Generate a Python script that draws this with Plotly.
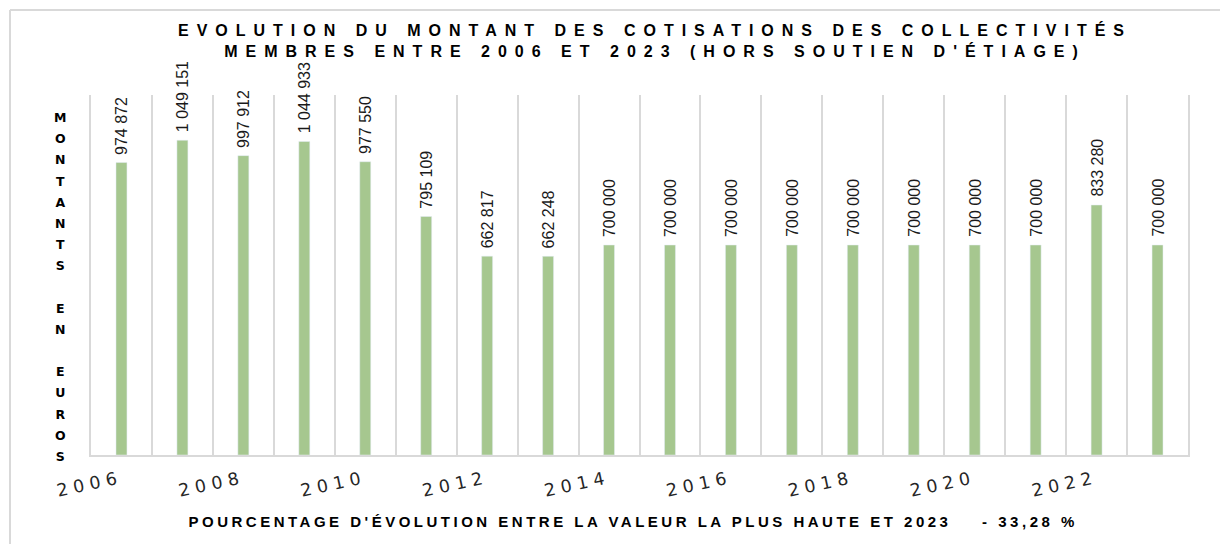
import plotly.graph_objects as go

# ---------------- data ----------------
years = list(range(2006, 2024))
montants = [974872, 1049151, 997912, 1044933, 977550, 795109, 662817, 662248,
            700000, 700000, 700000, 700000, 700000, 700000, 700000, 700000,
            833280, 700000]
tick_years = [2006, 2008, 2010, 2012, 2014, 2016, 2018, 2020, 2022]
title_lines = ["EVOLUTION DU MONTANT DES COTISATIONS DES COLLECTIVITÉS",
               "MEMBRES ENTRE 2006 ET 2023 (HORS SOUTIEN D'ÉTIAGE)"]
y_title_words = ["MONTANTS", "EN", "EUROS"]
footer_text = "POURCENTAGE D'ÉVOLUTION ENTRE LA VALEUR LA PLUS HAUTE ET 2023"
footer_value = "- 33,28 %"

# ---------------- layout geometry ----------------
W, H = 1220, 544
L, R, T, B = 91, 32, 95, 89
PW, PH = W - L - R, H - T - B


def px_x(px):
    return (px - L) / PW


def px_y(py):
    return (H - B - py) / PH


GRID = "#d9d9d9"
BAR = "#a6c78f"
TXT = "#262626"

fig = go.Figure()
fig.add_trace(go.Bar(
    x=years, y=montants, marker_color=BAR, width=0.18,
    hoverinfo="skip", showlegend=False,
))

annotations = []
# footer (index 0)
annotations.append(dict(
    xref="paper", yref="paper", x=px_x(633), y=px_y(521),
    xanchor="center", yanchor="middle", showarrow=False,
    text=footer_text + "\u00a0" * 4 + footer_value,
    font=dict(family="Liberation Sans", size=15, color="#000000", weight="bold"),
))
# vertical stacked y title (index 1)
word_blocks = ["<br>".join(f"<span style='font-size:12.5px'>{c}</span>" for c in w)
               for w in y_title_words]
annotations.append(dict(
    xref="paper", yref="paper", x=px_x(60), y=px_y(287),
    xanchor="center", yanchor="middle", showarrow=False, align="center",
    text="<br>\u00a0<br>".join(word_blocks),
    font=dict(family="DejaVu Sans", size=16.3, color="#000000", weight="bold"),
))
# bar value labels
for yr, v in zip(years, montants):
    annotations.append(dict(
        xref="x", yref="y", x=yr, y=v, text=f"{v:,}".replace(",", " "),
        textangle=-90, showarrow=False, xanchor="center", yanchor="bottom",
        yshift=6, font=dict(family="Liberation Sans", size=16, color="#1a1a1a"),
    ))

shapes = [
    dict(type="line", xref="paper", yref="paper", x0=px_x(10), x1=px_x(10),
         y0=px_y(10), y1=px_y(600), line=dict(color=GRID, width=2)),
    dict(type="line", xref="paper", yref="paper", x0=px_x(10), x1=px_x(1300),
         y0=px_y(10), y1=px_y(10), line=dict(color=GRID, width=2)),
]

fig.update_layout(
    width=W, height=H, autosize=False,
    margin=dict(l=L, r=R, t=T, b=B),
    paper_bgcolor="white", plot_bgcolor="white",
    title=dict(
        text="<br>".join(title_lines), x=655 / W, xanchor="center",
        y=1 - 36 / H, yanchor="top", xref="container", yref="container",
        font=dict(family="Liberation Sans", size=16, color="#000000", weight="bold"),
    ),
    annotations=annotations, shapes=shapes,
)
boundaries = [y - 0.5 for y in years] + [years[-1] + 0.5]
fig.update_xaxes(
    type="linear", range=[years[0] - 0.5, years[-1] + 0.5],
    tickvals=tick_years, ticktext=[str(y) for y in tick_years],
    showgrid=False, zeroline=False,
    minor=dict(tickvals=boundaries, showgrid=True, gridcolor=GRID, gridwidth=2,
               ticks=""),
    tickangle=-12, ticks="", showline=True, linecolor=GRID, linewidth=2,
    ticklabelstandoff=5,
    tickfont=dict(family="DejaVu Sans", size=17.5, color=TXT),
)
fig.update_yaxes(
    range=[0, 1200000], showticklabels=False, showgrid=False, zeroline=False,
    showline=True, mirror=True, linecolor=GRID, linewidth=2, ticks="",
)

css = ("body{margin:0;padding:0}"
       " .xtick text{letter-spacing:5.5px}"
       " .gtitle{letter-spacing:8px}"
       " g.annotation[data-index='0'] text{letter-spacing:3.5px}")
post = ("var s=document.createElement('style');s.textContent=\"" + css +
        "\";document.head.appendChild(s);")
fig.write_html("out.html", post_script=post,
               config={"displayModeBar": False, "staticPlot": True})
